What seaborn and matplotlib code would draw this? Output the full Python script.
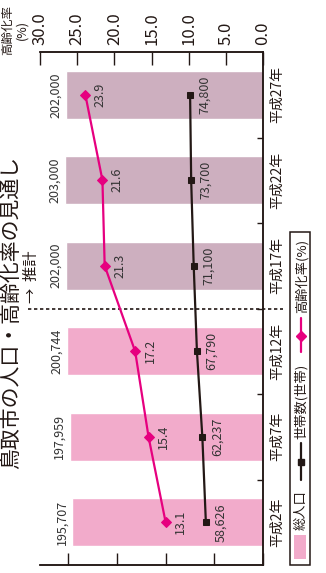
import matplotlib
matplotlib.use("Agg")
import matplotlib.pyplot as plt
import matplotlib.transforms as mtransforms
import pandas as pd
import seaborn as sns
from matplotlib.lines import Line2D
from matplotlib.patches import Rectangle

# data
years = ["平成2年", "平成7年", "平成12年", "平成17年", "平成22年", "平成27年"]
population = [195707, 197959, 200744, 202000, 203000, 202000]
households = [58626, 62237, 67790, 71100, 73700, 74800]
aging_rate = [13.1, 15.4, 17.2, 21.3, 21.6, 23.9]
pop_labels = ["195,707", "197,959", "200,744", "202,000", "203,000", "202,000"]
hh_labels = ["58,626", "62,237", "67,790", "71,100", "73,700", "74,800"]
rate_ticks = [0, 5, 10, 15, 20, 25, 30]
pop_ticks = [0, 50000, 100000, 150000, 200000]

PINK = "#F2ABCB"
MAUVE = "#CDAFBF"
MAGENTA = "#E6007F"
DARK = "#231815"

sns.set_theme(style="white")
plt.rcParams["font.family"] = ["Noto Sans CJK JP", "DejaVu Sans"]
plt.rcParams["text.color"] = DARK


def fx(px):
    return px / 326


def fy(py):
    return 1 - py / 573


def main():
    order = years[::-1]  # 平成27年 on top
    df = pd.DataFrame(
        {
            "year": years,
            "population": population,
            "households": households,
            "rate": aging_rate,
        }
    )
    df["pos"] = [order.index(y) for y in years]
    palette = {y: (PINK if i < 3 else MAUVE) for i, y in enumerate(years)}

    fig = plt.figure(figsize=(3.26, 5.73), dpi=100)
    ax = fig.add_axes([fx(40), fy(565), fx(223), 513 / 573])

    sns.barplot(
        data=df, x="population", y="year", hue="year", order=order,
        palette=palette, width=0.56, saturation=1, errorbar=None,
        legend=False, orient="h", ax=ax,
    )
    sns.lineplot(
        data=df, x="households", y="pos", orient="y", sort=False,
        estimator=None, color=DARK, lw=1.6, marker="s", markersize=5,
        markeredgecolor=DARK, ax=ax,
    )

    ax2 = ax.twiny()
    sns.lineplot(
        data=df, x="rate", y="pos", orient="y", sort=False,
        estimator=None, color=MAGENTA, lw=1.6, marker="D", markersize=5,
        markeredgecolor=MAGENTA, ax=ax2,
    )

    # population axis (unlabelled, bottom)
    ax.set_xlim(228800, 0)
    ax.set_xticks(pop_ticks)
    ax.tick_params(axis="x", direction="in", length=8.5, width=1, color=DARK,
                   bottom=True, top=False, labelbottom=False)
    ax.set_xlabel("")
    ax.set_ylabel("")

    # categories on the right
    ax.yaxis.tick_right()
    ax.set_yticks(range(len(order)))
    ax.set_yticklabels(order, rotation=90, va="center", fontsize=10, color=DARK)
    ax.set_yticks([0.5, 1.5, 2.5, 3.5, 4.5], minor=True)
    ax.tick_params(axis="y", which="major", length=0, pad=5)
    ax.tick_params(axis="y", which="minor", direction="in", length=4, width=1,
                   color=DARK, right=True, left=False)

    # aging rate axis (top)
    ax2.set_xlim(30, 0)
    ax2.set_xticks(rate_ticks)
    ax2.set_xticklabels([f"{v:.1f}" for v in rate_ticks])
    ax2.tick_params(axis="x", direction="in", length=9.4, width=1, color=DARK,
                    top=True, bottom=False, labeltop=True, labelbottom=False,
                    pad=5, labelsize=12, labelcolor=DARK, rotation=90)
    ax2.set_xlabel("")
    ax2.set_ylabel("")

    for a in (ax, ax2):
        a.spines["left"].set_visible(False)
        for s in ("top", "right", "bottom"):
            a.spines[s].set_color(DARK)
            a.spines[s].set_linewidth(1.1)
    ax.set_ylim(5.5, -0.5)

    # value labels
    for _, r in df.iterrows():
        ax.annotate(pop_labels[r.name], (r["population"], r["pos"]),
                    xytext=(-3, 0), textcoords="offset points", rotation=90,
                    ha="right", va="center", fontsize=9, color="#333333")
        ax.annotate(hh_labels[r.name], (r["households"], r["pos"]),
                    xytext=(6, 0), textcoords="offset points", rotation=90,
                    ha="left", va="center", fontsize=9, color="#333333")
        ax2.annotate(f"{r['rate']:.1f}", (r["rate"], r["pos"]),
                     xytext=(6, 0), textcoords="offset points", rotation=90,
                     ha="left", va="center", fontsize=9, color="#333333")

    # boundary between actual and projected values
    trans = mtransforms.blended_transform_factory(ax.transAxes, ax.transData)
    ax.plot([-0.054, 1.09], [2.5, 2.5], transform=trans, ls=(0, (2, 1.6)),
            color=DARK, lw=1.2, clip_on=False)
    ax.annotate("→  推計", (-0.036, 2.5), xycoords=trans, xytext=(0, 4),
                textcoords="offset points", rotation=90, ha="center",
                va="bottom", fontsize=11)

    # titles
    fig.text(fx(11), fy(312), "鳥取市の人口・高齢化率の見通し", rotation=90,
             ha="center", va="center", fontsize=15)
    fig.text(fx(15), fy(30), "高齢化率\n(%)", rotation=90, ha="center",
             va="center", multialignment="center", fontsize=9,
             linespacing=1.1)

    # legend, drawn by hand because it is rotated
    fig.add_artist(Rectangle((fx(290), fy(565)), 20 / 326, 333 / 573,
                             transform=fig.transFigure, fill=False,
                             edgecolor=DARK, lw=1.1))
    fig.add_artist(Rectangle((fx(294), fy(559)), 12 / 326, 24 / 573,
                             transform=fig.transFigure, facecolor=PINK,
                             edgecolor="none"))
    fig.text(fx(301.5), fy(510), "総人口", rotation=90, ha="center",
             va="center", fontsize=9.5)
    fig.add_artist(Line2D([fx(301), fx(301)], [fy(480), fy(443)],
                          transform=fig.transFigure, color=DARK, lw=1.6))
    fig.add_artist(Line2D([fx(301)], [fy(462)], transform=fig.transFigure,
                          color=DARK, marker="s", markersize=5))
    fig.text(fx(301.5), fy(401), "世帯数(世帯)", rotation=90, ha="center",
             va="center", fontsize=9.5)
    fig.add_artist(Line2D([fx(301), fx(301)], [fy(352), fy(318)],
                          transform=fig.transFigure, color=MAGENTA, lw=1.6))
    fig.add_artist(Line2D([fx(301)], [fy(336)], transform=fig.transFigure,
                          color=MAGENTA, marker="D", markersize=5))
    fig.text(fx(301.5), fy(276), "高齢化率(%)", rotation=90, ha="center",
             va="center", fontsize=9.5)

    fig.savefig("out.png", dpi=100)


if __name__ == "__main__":
    main()
